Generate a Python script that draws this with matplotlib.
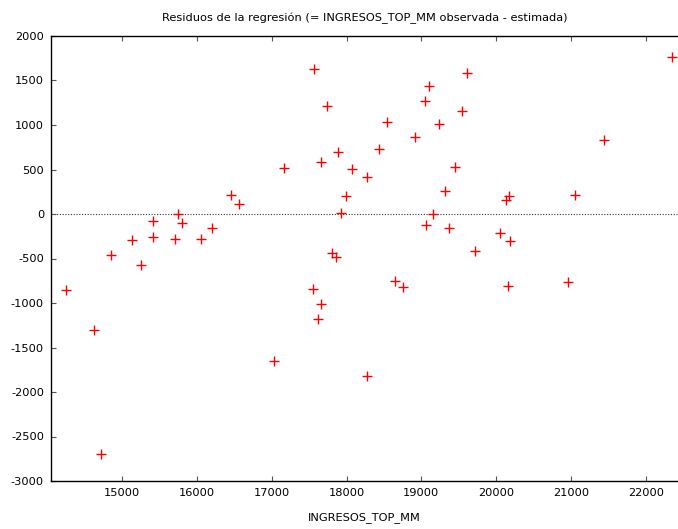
import matplotlib
matplotlib.use("Agg")
import matplotlib.pyplot as plt

ingresos = [14248, 14630, 14720, 14853, 15130, 15258, 15418, 15418, 15704, 15744,
            15805, 16055, 16206, 16459, 16566, 17029, 17167, 17550, 17563, 17621,
            17661, 17661, 17741, 17800, 17857, 17880, 17924, 17995, 18067, 18278,
            18280, 18435, 18547, 18654, 18748, 18914, 19052, 19062, 19103, 19154,
            19236, 19310, 19371, 19446, 19548, 19611, 19713, 20051, 20131, 20171,
            20163, 20184, 20955, 21052, 21445, 22347]
residuos = [-855, -1301, -2693, -466, -297, -578, -79, -259, -278, 0,
            -106, -281, -154, 214, 116, -1650, 521, -840, 1630, -1181,
            585, -1012, 1218, -439, -484, 697, 11, 198, 506, 416,
            -1819, 727, 1032, -758, -821, 868, 1271, -122, 1443, 0,
            1016, 264, -157, 529, 1154, 1582, -421, -214, 161, 206,
            -814, -308, -762, 214, 832, 1762]

xticks = [15000, 16000, 17000, 18000, 19000, 20000, 21000, 22000]
yticks = [-3000, -2500, -2000, -1500, -1000, -500, 0, 500, 1000, 1500, 2000]

fig = plt.figure(figsize=(6.78, 5.29), dpi=100)
ax = fig.add_axes([51/678, 1 - 481/529, 1 - 51/678, (481 - 36)/529])

ax.axhline(0, color="#333333", linestyle=(0, (1, 1.5)), linewidth=0.8, zorder=1)
ax.plot(ingresos, residuos, linestyle="none", marker="+", color="red",
        markersize=7, markeredgewidth=1.0, zorder=3)

ax.set_xlim(14050, 22430)
ax.set_ylim(-3000, 2000)
ax.set_xticks(xticks)
ax.set_yticks(yticks)
ax.set_xticklabels([str(v) for v in xticks])
ax.set_yticklabels([str(v) for v in yticks])
ax.tick_params(direction="in", length=3.5, width=0.8, labelsize=8.2,
               top=True, right=False, pad=5, color="#555555", labelcolor="black")
for s in ax.spines.values():
    s.set_linewidth(1.0)
    s.set_color("black")
ax.spines["right"].set_visible(False)

ax.set_xlabel("INGRESOS_TOP_MM", fontsize=8.2, labelpad=10)
ax.set_title("Residuos de la regresión (= INGRESOS_TOP_MM observada - estimada)",
             fontsize=8.2, pad=11)

fig.savefig("out.png", dpi=100)
